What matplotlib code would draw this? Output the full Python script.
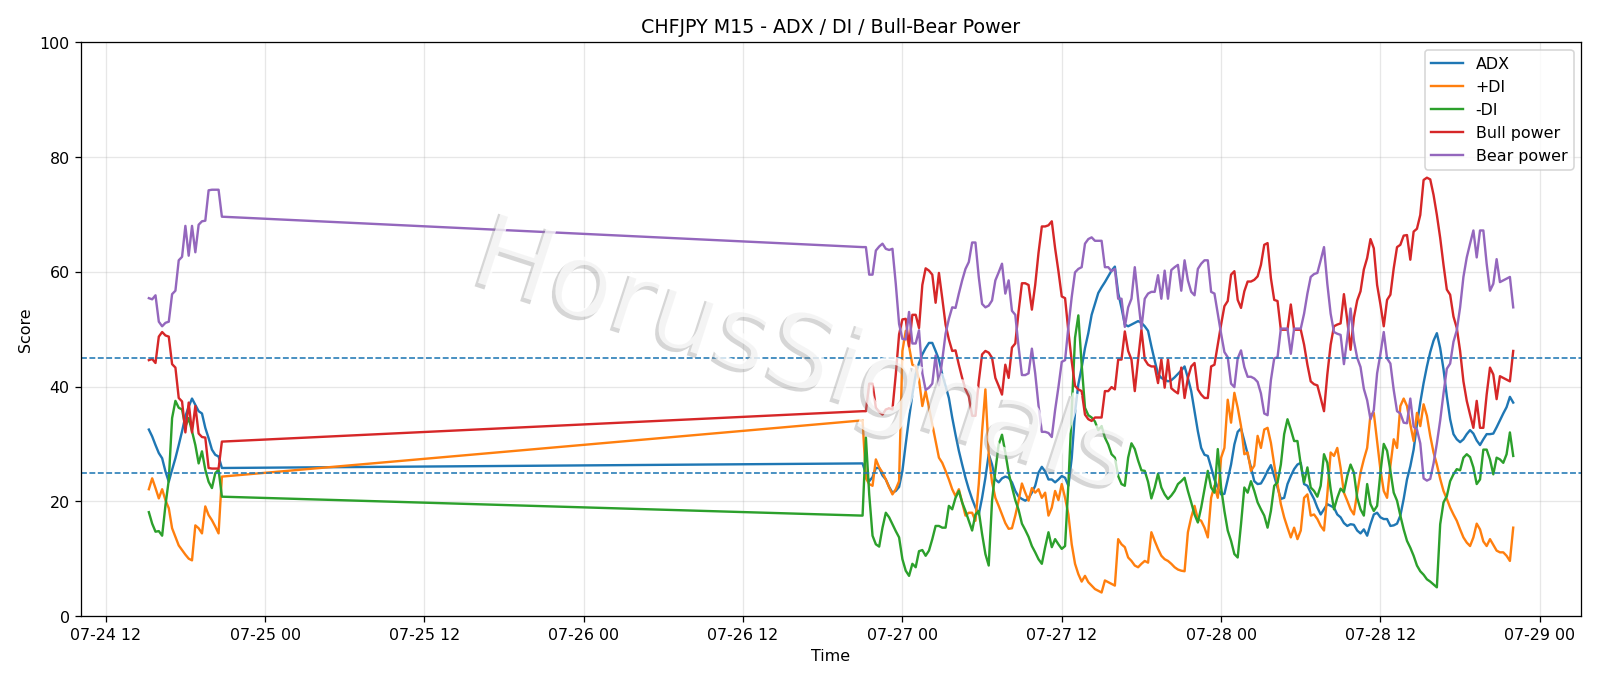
import pandas as pd
import matplotlib
matplotlib.use("Agg")
import matplotlib.pyplot as plt
import matplotlib.dates as mdates
import matplotlib.patheffects as pe

# M15 bars: friday session, then market reopens sunday evening
times = list(pd.date_range("2020-07-24 15:15", "2020-07-24 20:45", freq="15min")) + \
        list(pd.date_range("2020-07-26 21:00", "2020-07-28 22:00", freq="15min"))

adx = [32.5, 31.3, 29.8, 28.4, 27.5, 25.2, 23.4, 25.5, 27.5, 29.8, 32.2, 34.8, 36.5, 37.9, 36.8, 35.7,
       35.3, 32.8, 31.0, 29.0, 28.1, 27.8, 25.8,
       26.6, 24.8, 23.5, 24.2, 25.8, 25.8, 24.5, 23.8, 22.5, 21.5,
       21.8, 22.5, 25.3, 30.0, 34.5, 38.6, 42.1, 44.1, 45.6, 46.7,
       47.6, 47.6, 46.2, 44.7, 42.1, 40.1, 38.0, 34.6, 31.6, 28.8,
       26.4, 24.1, 22.1, 20.4, 18.9, 17.7, 20.6, 24.1, 28.2, 26.4,
       23.8, 23.3, 24.0, 24.3, 24.1, 23.3, 21.8, 20.8, 20.4, 20.1,
       20.5, 21.5, 22.7, 25.0, 26.0, 25.2, 23.8, 23.8, 23.3, 23.8,
       24.4, 24.1, 22.7, 27.5, 35.5, 40.4, 43.3, 46.7, 49.3, 52.5,
       54.4, 56.3, 57.3, 58.2, 59.2, 60.2, 60.9, 56.3, 53.7, 50.8,
       50.5, 50.8, 51.1, 51.4, 51.1, 50.5, 49.7, 47.0, 44.5, 42.2,
       41.5, 41.2, 40.9, 41.1, 41.6, 42.2, 42.8, 43.5, 41.5, 39.2,
       35.7, 32.2, 29.3, 28.1, 27.9, 25.9, 23.8, 22.4, 21.2, 21.3,
       23.8, 26.4, 29.9, 32.1, 32.7, 30.5, 28.2, 25.9, 23.5, 23.0,
       23.1, 24.1, 25.3, 26.3, 24.4, 22.4, 20.4, 20.6, 23.0, 24.4,
       25.6, 26.4, 26.7, 23.0, 22.7, 21.5, 20.4, 18.9, 17.7, 18.6,
       19.5, 19.2, 18.9, 17.7, 17.2, 16.2, 15.7, 16.0, 15.9, 14.9,
       14.4, 15.1, 14.0, 16.0, 17.7, 18.0, 17.2, 16.9, 16.9, 15.7,
       15.8, 16.1, 17.5, 20.4, 23.8, 26.1, 29.0, 33.4, 37.2, 40.6,
       43.5, 46.0, 48.0, 49.3, 46.7, 43.0, 38.3, 34.3, 31.7, 30.8,
       30.3, 30.8, 31.7, 32.4, 31.8, 30.6, 29.8, 30.8, 31.7, 31.7,
       31.8, 32.9, 34.1, 35.3, 36.4, 38.2, 37.2]

plus_di = [22.1, 24.0, 22.3, 20.5, 22.1, 20.2, 18.8, 15.3, 13.8, 12.3, 11.5, 10.7, 10.0, 9.7, 15.8, 15.3,
           14.4, 19.1, 17.6, 16.7, 15.6, 14.4, 24.3,
           34.1, 24.0, 23.0, 22.7, 27.3, 25.9, 25.0, 23.8, 22.4, 21.2,
           22.1, 23.5, 46.2, 49.7, 47.0, 43.8, 43.5, 41.2, 36.6, 39.2,
           36.3, 33.4, 30.5, 27.6, 26.7, 25.3, 23.8, 22.1, 20.9, 22.1,
           19.8, 17.5, 18.0, 18.0, 16.6, 23.0, 32.2, 39.5, 28.2, 23.3,
           20.6, 19.2, 17.7, 16.2, 15.2, 15.3, 17.5, 20.1, 23.1, 21.5,
           20.1, 22.3, 21.5, 22.1, 20.6, 21.5, 17.5, 18.9, 21.8, 20.2,
           23.0, 20.6, 17.7, 12.5, 9.1, 7.3, 6.0, 7.0, 5.9, 5.3,
           4.7, 4.4, 4.1, 6.2, 5.9, 5.6, 5.3, 13.4, 12.5, 12.0,
           10.2, 9.6, 8.8, 8.5, 9.1, 9.6, 9.3, 14.6, 13.1, 11.7,
           10.5, 9.9, 9.6, 9.1, 8.5, 8.1, 7.9, 7.8, 14.6, 17.2,
           19.2, 16.9, 16.6, 15.4, 13.7, 20.6, 22.7, 20.6, 27.6, 29.3,
           37.7, 33.7, 38.9, 36.3, 33.1, 28.2, 28.5, 25.3, 26.2, 31.4,
           29.3, 32.5, 32.8, 30.2, 26.4, 23.0, 19.5, 17.2, 15.4, 13.7,
           15.4, 13.4, 14.9, 20.6, 21.2, 17.5, 17.7, 16.9, 15.7, 14.9,
           21.2, 28.5, 27.9, 29.3, 25.8, 21.5, 20.1, 18.6, 17.7, 21.5,
           25.0, 27.3, 29.3, 35.1, 35.4, 30.5, 25.5, 21.8, 20.6, 26.2,
           30.8, 29.3, 36.6, 37.9, 36.6, 33.4, 30.5, 35.4, 33.1, 36.9,
           34.9, 31.4, 28.5, 26.4, 23.9, 21.8, 20.4, 18.9, 17.7, 16.6,
           15.1, 13.7, 12.8, 12.2, 13.7, 16.1, 15.1, 13.0, 12.2, 13.4,
           12.4, 11.4, 11.1, 11.1, 10.5, 9.6, 15.4]

minus_di = [18.1, 16.1, 14.7, 14.8, 14.0, 19.3, 23.7, 34.5, 37.5, 36.3, 36.0, 33.0, 34.5, 32.2, 29.8, 26.6,
            28.7, 25.5, 23.4, 22.3, 24.9, 25.5, 20.8,
            17.5, 31.1, 21.2, 14.0, 12.5, 12.1, 15.4, 18.0, 17.2, 16.0,
            14.8, 13.7, 9.9, 7.9, 7.0, 9.1, 8.5, 11.3, 11.5, 10.5,
            11.4, 13.4, 15.7, 15.7, 15.4, 15.4, 19.2, 18.6, 20.6, 21.8,
            19.8, 18.3, 16.6, 14.9, 17.7, 18.3, 14.3, 10.8, 8.8, 20.1,
            25.3, 29.9, 31.6, 28.5, 25.0, 22.5, 20.2, 18.5, 16.1, 15.0,
            13.8, 12.2, 11.1, 9.9, 9.1, 12.0, 14.6, 12.0, 13.4, 12.5,
            11.7, 12.2, 23.0, 35.7, 48.5, 52.4, 43.8, 36.3, 35.0, 34.6,
            33.9, 32.4, 33.1, 31.1, 29.9, 28.2, 27.6, 24.4, 23.0, 22.7,
            27.6, 30.1, 29.1, 27.1, 25.4, 25.3, 23.4, 20.5, 22.4, 24.8,
            22.4, 21.2, 20.4, 21.0, 21.8, 23.0, 23.5, 24.1, 21.8, 19.8,
            17.7, 16.3, 18.9, 22.1, 25.3, 22.4, 21.5, 29.1, 22.4, 18.3,
            14.9, 13.1, 10.8, 10.2, 16.0, 22.4, 21.5, 23.5, 21.8, 19.8,
            18.6, 17.5, 15.4, 18.3, 22.7, 23.3, 26.4, 31.7, 34.3, 32.5,
            30.5, 30.5, 26.4, 23.3, 25.9, 22.4, 21.8, 20.8, 22.7, 28.2,
            26.7, 22.1, 18.6, 20.6, 22.2, 21.6, 24.4, 26.4, 25.0, 20.6,
            18.6, 17.5, 23.0, 19.5, 18.3, 19.2, 25.0, 30.0, 28.8, 25.3,
            21.5, 20.1, 17.5, 15.1, 13.1, 11.9, 10.5, 8.8, 7.8, 7.2,
            6.4, 6.0, 5.5, 5.0, 16.0, 19.8, 20.9, 23.5, 24.7, 25.6,
            25.4, 27.6, 28.2, 27.7, 25.9, 23.0, 23.8, 29.0, 29.0, 27.3,
            24.7, 27.6, 27.3, 26.7, 28.2, 32.0, 27.9]

bull_power = [44.6, 44.8, 44.1, 48.7, 49.5, 48.9, 48.7, 43.9, 43.3, 38.0, 37.4, 32.0, 37.2, 32.0, 36.6, 31.8,
              31.2, 31.1, 25.8, 25.7, 25.7, 25.7, 30.4,
              35.7, 35.7, 40.5, 40.5, 36.3, 35.6, 35.1, 36.0, 36.2, 36.0,
              42.1, 49.1, 51.7, 51.8, 47.0, 52.5, 52.5, 50.2, 57.7, 60.6,
              60.2, 59.5, 54.6, 59.8, 55.4, 50.8, 48.2, 46.2, 46.3, 43.8,
              41.5, 39.5, 38.3, 34.9, 34.9, 40.9, 45.6, 46.2, 45.9, 45.0,
              41.5, 40.1, 38.6, 43.8, 41.5, 46.8, 47.5, 53.1, 58.0, 58.0,
              57.7, 53.4, 57.7, 63.3, 67.9, 67.9, 68.1, 68.8, 64.1, 60.1,
              55.7, 55.4, 49.6, 44.4, 40.1, 39.5, 39.2, 35.1, 34.3, 34.0,
              34.6, 34.6, 34.6, 39.2, 39.2, 39.9, 39.5, 44.7, 44.7, 49.6,
              46.2, 44.7, 39.2, 44.7, 49.9, 44.7, 43.8, 43.5, 43.5, 40.6,
              44.7, 39.8, 44.7, 39.7, 39.2, 38.8, 43.3, 38.0, 41.5, 43.5,
              44.1, 39.5, 38.6, 38.0, 38.0, 43.5, 43.8, 47.3, 50.8, 54.0,
              54.9, 59.5, 60.1, 55.1, 53.7, 56.6, 58.3, 58.3, 58.6, 59.2,
              61.2, 64.7, 65.0, 58.9, 55.1, 54.9, 49.9, 49.9, 49.9, 54.3,
              49.9, 49.9, 49.9, 47.3, 43.8, 40.9, 40.4, 40.2, 38.0, 35.7,
              42.1, 47.3, 50.5, 50.8, 51.0, 56.1, 51.6, 46.4, 52.0, 55.0,
              56.6, 60.4, 62.4, 65.7, 64.1, 57.7, 54.3, 50.5, 55.1, 56.0,
              60.6, 64.3, 64.7, 66.3, 66.4, 62.1, 67.0, 67.5, 69.9, 76.0,
              76.4, 76.1, 73.4, 69.9, 65.9, 61.2, 56.9, 56.0, 52.2, 50.2,
              46.2, 40.9, 37.5, 35.1, 32.8, 37.5, 32.8, 32.8, 38.6, 43.3,
              42.1, 37.8, 41.8, 41.5, 41.2, 40.9, 46.2]

bear_power = [55.4, 55.2, 55.9, 51.3, 50.5, 51.1, 51.3, 56.1, 56.7, 62.0, 62.6, 68.0, 62.8, 68.0, 63.4, 68.2,
              68.8, 68.9, 74.2, 74.3, 74.3, 74.3, 69.6,
              64.3, 64.3, 59.5, 59.5, 63.7, 64.4, 64.9, 64.0, 63.8, 64.0,
              57.9, 50.9, 48.3, 48.2, 53.0, 47.5, 47.5, 49.8, 42.3, 39.4,
              39.8, 40.5, 45.4, 40.2, 44.6, 49.2, 51.8, 53.8, 53.7, 56.2,
              58.5, 60.5, 61.7, 65.1, 65.1, 59.1, 54.4, 53.8, 54.1, 55.0,
              58.5, 59.9, 61.4, 56.2, 58.5, 53.2, 52.5, 46.9, 42.0, 42.0,
              42.3, 46.6, 42.3, 36.7, 32.1, 32.1, 31.9, 31.2, 35.9, 39.9,
              44.3, 44.6, 50.4, 55.6, 59.9, 60.5, 60.8, 64.9, 65.7, 66.0,
              65.4, 65.4, 65.4, 60.8, 60.8, 60.1, 60.5, 55.3, 55.3, 50.4,
              53.8, 55.3, 60.8, 55.3, 50.1, 55.3, 56.2, 56.5, 56.5, 59.4,
              55.3, 60.2, 55.3, 60.3, 60.8, 61.2, 56.7, 62.0, 58.5, 56.5,
              55.9, 60.5, 61.4, 62.0, 62.0, 56.5, 56.2, 52.7, 49.2, 46.0,
              45.1, 40.5, 39.9, 44.9, 46.3, 43.4, 41.7, 41.7, 41.4, 40.8,
              38.8, 35.3, 35.0, 41.1, 44.9, 45.1, 50.1, 50.1, 50.1, 45.7,
              50.1, 50.1, 50.1, 52.7, 56.2, 59.1, 59.6, 59.8, 62.0, 64.3,
              57.9, 52.7, 49.5, 49.2, 49.0, 43.9, 48.4, 53.6, 48.0, 45.0,
              43.4, 39.6, 37.6, 34.3, 35.9, 42.3, 45.7, 49.5, 44.9, 44.0,
              39.4, 35.7, 35.3, 33.7, 33.6, 37.9, 33.0, 32.5, 30.1, 24.0,
              23.6, 23.9, 26.6, 30.1, 34.1, 38.8, 43.1, 44.0, 47.8, 49.8,
              53.8, 59.1, 62.5, 64.9, 67.2, 62.5, 67.2, 67.2, 61.4, 56.7,
              57.9, 62.2, 58.2, 58.5, 58.8, 59.1, 53.8]

DPI = 1600 / 14
fig = plt.figure(figsize=(14, 6), dpi=DPI)
ax = fig.add_axes([0.0504, 0.1006, 0.938, 0.8367])

ax.plot(times, adx, label="ADX")
ax.plot(times, plus_di, label="+DI")
ax.plot(times, minus_di, label="-DI")
ax.plot(times, bull_power, label="Bull power")
ax.plot(times, bear_power, label="Bear power")

ax.axhline(25, linestyle="--", linewidth=1)
ax.axhline(45, linestyle="--", linewidth=1)

# watermark, semi-transparent white with a soft grey drop shadow
ax.text(0.2583, 0.5863, "HorusSignals", transform=ax.transAxes, fontsize=66, rotation=-18,
        rotation_mode="anchor", ha="left", va="baseline",
        color="white", alpha=0.75, zorder=4,
        path_effects=[pe.SimplePatchShadow(offset=(-2.2, -2.2), shadow_rgbFace="#8c8c8c", alpha=0.35),
                      pe.Normal()])

ax.set_ylim(0, 100)
ax.set_title("CHFJPY M15 - ADX / DI / Bull-Bear Power")
ax.set_xlabel("Time")
ax.set_ylabel("Score")
ax.xaxis.set_major_locator(mdates.HourLocator(byhour=[0, 12]))
ax.xaxis.set_major_formatter(mdates.DateFormatter("%m-%d %H"))
ax.grid(True, alpha=0.3)
ax.legend(loc="upper right")

fig.savefig("out.png", dpi=DPI)
